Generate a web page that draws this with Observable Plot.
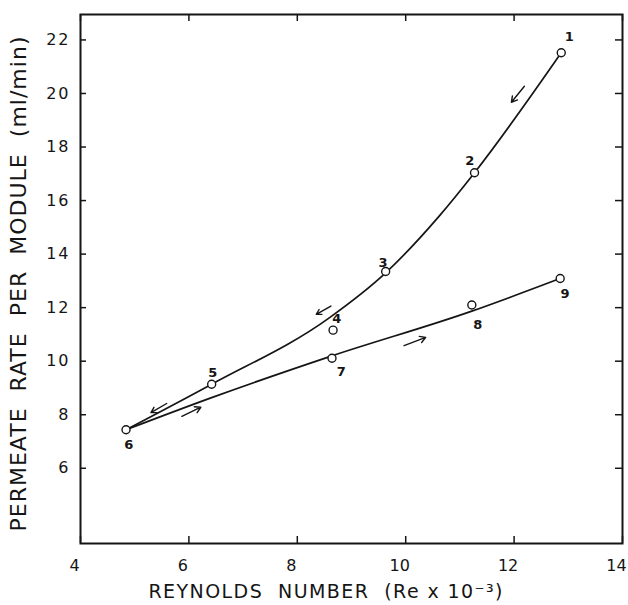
<!DOCTYPE html>
<html>
<head>
<meta charset="utf-8">
<script src="https://cdn.jsdelivr.net/npm/d3@7"></script>
<script src="https://cdn.jsdelivr.net/npm/@observablehq/plot@0.6"></script>
<style>
  html, body { margin: 0; padding: 0; background: #fff; }
  #chart { width: 628px; height: 605px; }
</style>
</head>
<body>
<div id="chart"></div>
<script>
// ---- Data ----
const pointIds = ["1", "2", "3", "4", "5", "6", "7", "8", "9"];
const pointX   = [12.87, 11.27, 9.63, 8.66, 6.42, 4.84, 8.64, 11.22, 12.85];
const pointY   = [21.52, 17.04, 13.35, 11.16, 9.14, 7.44, 10.11, 12.10, 13.09];
// label anchor positions (data units)
const labelX   = [13.02, 11.18, 9.58, 8.73, 6.44, 4.89, 8.81, 11.33, 12.94];
const labelY   = [22.12, 17.49, 13.68, 11.57, 9.56, 6.87, 9.59, 11.35, 12.50];

// upper (decreasing Re) curve
const upperX = [4.84, 6.42, 8.59, 9.63, 10.61, 11.27, 12.87];
const upperY = [7.44, 9.14, 11.62, 13.30, 15.40, 17.04, 21.52];
// lower (increasing Re) curve
const lowerX = [4.84, 6.42, 8.64, 11.22, 12.85];
const lowerY = [7.44, 8.64, 10.20, 11.87, 13.09];

// direction arrows: tail (x1,y1) -> head (x2,y2)
const arrowX1 = [12.19, 8.62, 5.59, 5.87, 9.97];
const arrowY1 = [20.27, 12.06, 8.42, 7.94, 10.58];
const arrowX2 = [11.95, 8.35, 5.30, 6.22, 10.37];
const arrowY2 = [19.67, 11.75, 8.08, 8.28, 10.89];

const xTicks = [4, 6, 8, 10, 12, 14];
const yTicks = [6, 8, 10, 12, 14, 16, 18, 20, 22];
const xTitle = "REYNOLDS  NUMBER  (Re x 10\u207B\u00B3)";
const yTitle = "PERMEATE  RATE  PER  MODULE  (ml/min)";

// ---- Tables built from the arrays ----
const points = pointIds.map((id, i) => ({id, x: pointX[i], y: pointY[i], lx: labelX[i], ly: labelY[i]}));
const upper = upperX.map((x, i) => ({x, y: upperY[i]}));
const lower = lowerX.map((x, i) => ({x, y: lowerY[i]}));
const arrows = arrowX1.map((x1, i) => ({x1, y1: arrowY1[i], x2: arrowX2[i], y2: arrowY2[i]}));

const W = 628, H = 605;
const mL = 80, mR = 6, mT = 14, mB = 62;
const fw = W - mL - mR, fh = H - mT - mB;
const ink = "#151515";

const plot = Plot.plot({
  width: W, height: H,
  marginLeft: mL, marginRight: mR, marginTop: mT, marginBottom: mB,
  x: {domain: [4, 14]},
  y: {domain: [3.19, 22.95]},
  style: {fontFamily: "DejaVu Sans", background: "#fff", color: ink},
  marks: [
    // inward tick marks on all four sides
    Plot.tickX(xTicks, {x: d => d, insetTop: fh - 7, stroke: ink, strokeWidth: 1.5}),
    Plot.tickX(xTicks, {x: d => d, insetBottom: fh - 7, stroke: ink, strokeWidth: 1.5}),
    Plot.tickY(yTicks, {y: d => d, insetRight: fw - 6, stroke: ink, strokeWidth: 1.5}),
    Plot.tickY(yTicks, {y: d => d, insetLeft: fw - 7, stroke: ink, strokeWidth: 1.5}),
    Plot.frame({stroke: ink, strokeWidth: 2}),
    Plot.axisX({ticks: xTicks, tickSize: 0, tickPadding: 16, dx: -6, fontSize: 16, label: null}),
    Plot.axisY({ticks: yTicks, tickSize: 0, tickPadding: 10, fontSize: 16, label: null}),
    // curves
    Plot.line(upper, {x: "x", y: "y", curve: "monotone-x", stroke: ink, strokeWidth: 1.7}),
    Plot.line(lower, {x: "x", y: "y", curve: "monotone-x", stroke: ink, strokeWidth: 1.7}),
    // arrows
    Plot.arrow(arrows, {x1: "x1", y1: "y1", x2: "x2", y2: "y2", stroke: ink, strokeWidth: 1.4, headLength: 7}),
    // points
    Plot.dot(points, {x: "x", y: "y", r: 4, stroke: ink, strokeWidth: 1.4, fill: "white"}),
    Plot.text(points, {x: "lx", y: "ly", text: "id", fontSize: 13, fontWeight: "bold", fill: ink}),
    // titles (start-anchored, stretched to the reference length below)
    Plot.text([yTitle], {frameAnchor: "bottom-left", textAnchor: "start", dx: -55, dy: -12, rotate: -90, fontSize: 22, fill: ink}),
    Plot.text([xTitle], {frameAnchor: "bottom-left", textAnchor: "start", dx: 68, dy: 54, fontSize: 19, fill: ink})
  ]
});

document.getElementById("chart").appendChild(plot);

const sel = d3.select(plot);
sel.selectAll("text").each(function () {
  const t = this.textContent;
  if (t.startsWith("PERMEATE")) d3.select(this).attr("textLength", 495).attr("lengthAdjust", "spacing");
  if (t.startsWith("REYNOLDS")) d3.select(this).attr("textLength", 354).attr("lengthAdjust", "spacing");
});
sel.selectAll('g[aria-label="y-axis tick label"] text').attr("letter-spacing", 2);
</script>
</body>
</html>
